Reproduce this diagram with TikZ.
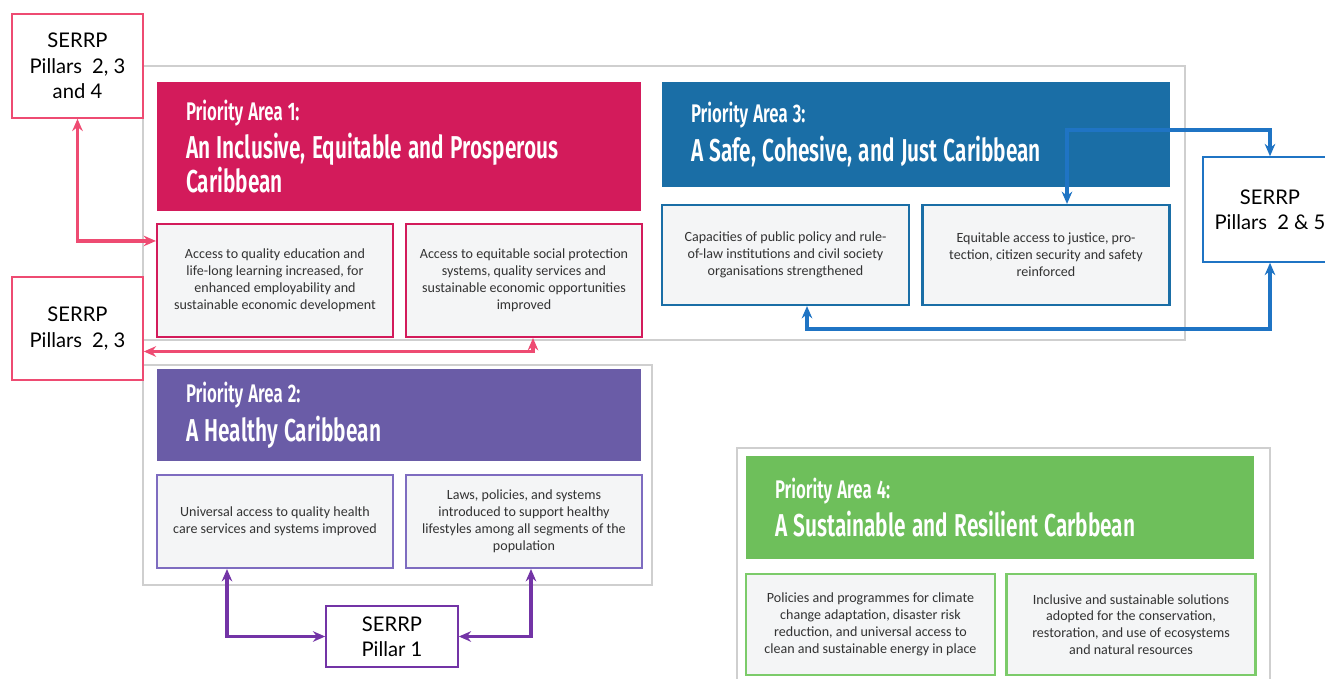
\documentclass[tikz,border=0pt]{standalone}
\usepackage{fontspec}
\setmainfont{Carlito}
\newfontfamily\headfont[FakeStretch=0.66,BoldFont={Fira Sans SemiBold}]{Fira Sans}
\newfontfamily\serrpfont{Lato}
\newcommand\pahspace{\spaceskip=0.2em plus 0.02em\relax}
\usepackage{tikz}
\usetikzlibrary{positioning}
\usetikzlibrary{calc,arrows.meta}
\usepackage{color}
\definecolor{pacrim}{HTML}{D31B5B}
\definecolor{papink}{HTML}{EE4B72}
\definecolor{pablue}{HTML}{1A6EA6}
\definecolor{pabluearr}{HTML}{1F74C4}
\definecolor{papurple}{HTML}{6A5CA7}
\definecolor{pavio}{HTML}{7E6CC0}
\definecolor{papurarr}{HTML}{7334A6}
\definecolor{pagreen}{HTML}{6EBF5B}
\definecolor{pagreenln}{HTML}{7CCB6A}
\definecolor{subfill}{HTML}{F4F5F6}
\definecolor{framegray}{HTML}{CFCFCF}
\definecolor{subtext}{HTML}{333333}

\begin{document}
\begin{tikzpicture}[x=0.02cm,y=-0.02cm,>={Stealth[length=7pt,width=6pt]},
  pahead/.style={shape=rectangle,text=white,inner sep=0pt,align=left,
    font=\headfont\bfseries\fontsize{18}{17}\selectfont},
  outcome/.style={shape=rectangle,draw,line width=1.2pt,fill=subfill,text=subtext,
    align=center,inner sep=2pt,font=\fontsize{8}{9.6}\selectfont},
  serrp/.style={shape=rectangle,draw,line width=0.9pt,fill=white,align=center,
    font=\serrpfont\fontsize{11.5}{14.5}\selectfont},
  link/.style={<->,line width=2pt},
  panel/.style={draw=framegray,line width=0.6pt}]
\useasboundingbox (0,0) rectangle (1325,679);
% frames round the pasted areas
\draw [panel] (143,66) rectangle (1185,340);
\draw [panel] (143,365) rectangle (652,585);
\draw [panel] (737,448) rectangle (1270,700);

\path
(399,146.5) node [pahead,fill=pacrim,minimum width=9.68cm,minimum height=2.58cm,text width=8.52cm](pa1)
  {{\fontsize{14.5}{15}\selectfont\pahspace Priority Area 1:}\\[3.4pt]\pahspace An Inclusive, Equitable and Prosperous\\\pahspace Caribbean}
(916,134.5) node [pahead,fill=pablue,minimum width=10.16cm,minimum height=2.1cm,text width=9cm](pa3)
  {{\fontsize{14.5}{15}\selectfont\pahspace Priority Area 3:}\\[3.4pt]\pahspace A Safe, Cohesive, and Just Caribbean}
(399,415) node [pahead,fill=papurple,minimum width=9.68cm,minimum height=1.84cm,text width=8.52cm](pa2)
  {{\fontsize{14.5}{15}\selectfont\pahspace Priority Area 2:}\\[3.4pt]\pahspace A Healthy Caribbean}
(1000,507.5) node [pahead,fill=pagreen,minimum width=10.16cm,minimum height=2.06cm,text width=9cm](pa4)
  {{\fontsize{14.5}{15}\selectfont\pahspace Priority Area 4:}\\[3.4pt]\pahspace A Sustainable and Resilient Carbbean};

\path
(275,280.5) node [outcome,draw=pacrim,minimum width=4.72cm,minimum height=2.26cm](pa1a)
  {Access to quality education and\\life-long learning increased, for\\enhanced employability and\\sustainable economic development}
(524,280.5) node [outcome,draw=pacrim,minimum width=4.72cm,minimum height=2.26cm](pa1b)
  {Access to equitable social protection\\systems, quality services and\\sustainable economic opportunities\\improved}
(785.5,255) node [outcome,draw=pablue,minimum width=4.94cm,minimum height=2cm](pa3a)
  {Capacities of public policy and rule-\\of-law institutions and civil society\\organisations strengthened}
(1046,255) node [outcome,draw=pablue,minimum width=4.94cm,minimum height=2cm](pa3b)
  {Equitable access to justice, pro-\\tection, citizen security and safety\\reinforced}
(275,521.5) node [outcome,draw=pavio,minimum width=4.72cm,minimum height=1.86cm](pa2a)
  {Universal access to quality health\\care services and systems improved}
(524,521.5) node [outcome,draw=pavio,minimum width=4.72cm,minimum height=1.86cm](pa2b)
  {Laws, policies, and systems\\introduced to support healthy\\lifestyles among all segments of the\\population}
(870.5,624.5) node [outcome,draw=pagreenln,minimum width=4.98cm,minimum height=2.02cm](pa4a)
  {Policies and programmes for climate\\change adaptation, disaster risk\\reduction, and universal access to\\clean and sustainable energy in place}
(1131,624.5) node [outcome,draw=pagreenln,minimum width=4.98cm,minimum height=2.02cm](pa4b)
  {Inclusive and sustainable solutions\\adopted for the conservation,\\restoration, and use of ecosystems\\and natural resources};

\path
(77.5,66) node [serrp,draw=papink,minimum width=2.62cm,minimum height=2.08cm](serrpA) {SERRP\\Pillars\enspace 2, 3\\and 4}
(77.5,328.5) node [serrp,draw=papink,minimum width=2.62cm,minimum height=2.06cm](serrpB) {SERRP\\Pillars\enspace 2, 3}
(392,636.5) node [serrp,draw=papurarr,minimum width=2.64cm,minimum height=1.22cm](serrpC) {SERRP\\Pillar 1}
(1270,209.5) node [serrp,draw=pabluearr,minimum width=2.68cm,minimum height=2.1cm](serrpD) {SERRP\\Pillars\enspace 2 \& 5};

\draw [link,papink](serrpA.south) |- ($(pa1a.north west)+(0,18)$);
\draw [link,papink]($(serrpB.east)+(0,23)$) -| ($(pa1b.south)+(9,0)$);
\draw [link,papurarr]($(pa2a.south)+(-48,0)$) |- (serrpC.west);
\draw [link,papurarr]($(pa2b.south)+(7,0)$) |- (serrpC.east);
\draw [link,pabluearr]($(pa3b.north)+(21,0)$) -- ++(0,-74) -| (serrpD.north);
\draw [link,pabluearr]($(pa3a.south)+(21.5,0)$) -- ++(0,23) -| (serrpD.south);

\end{tikzpicture}
\end{document}
